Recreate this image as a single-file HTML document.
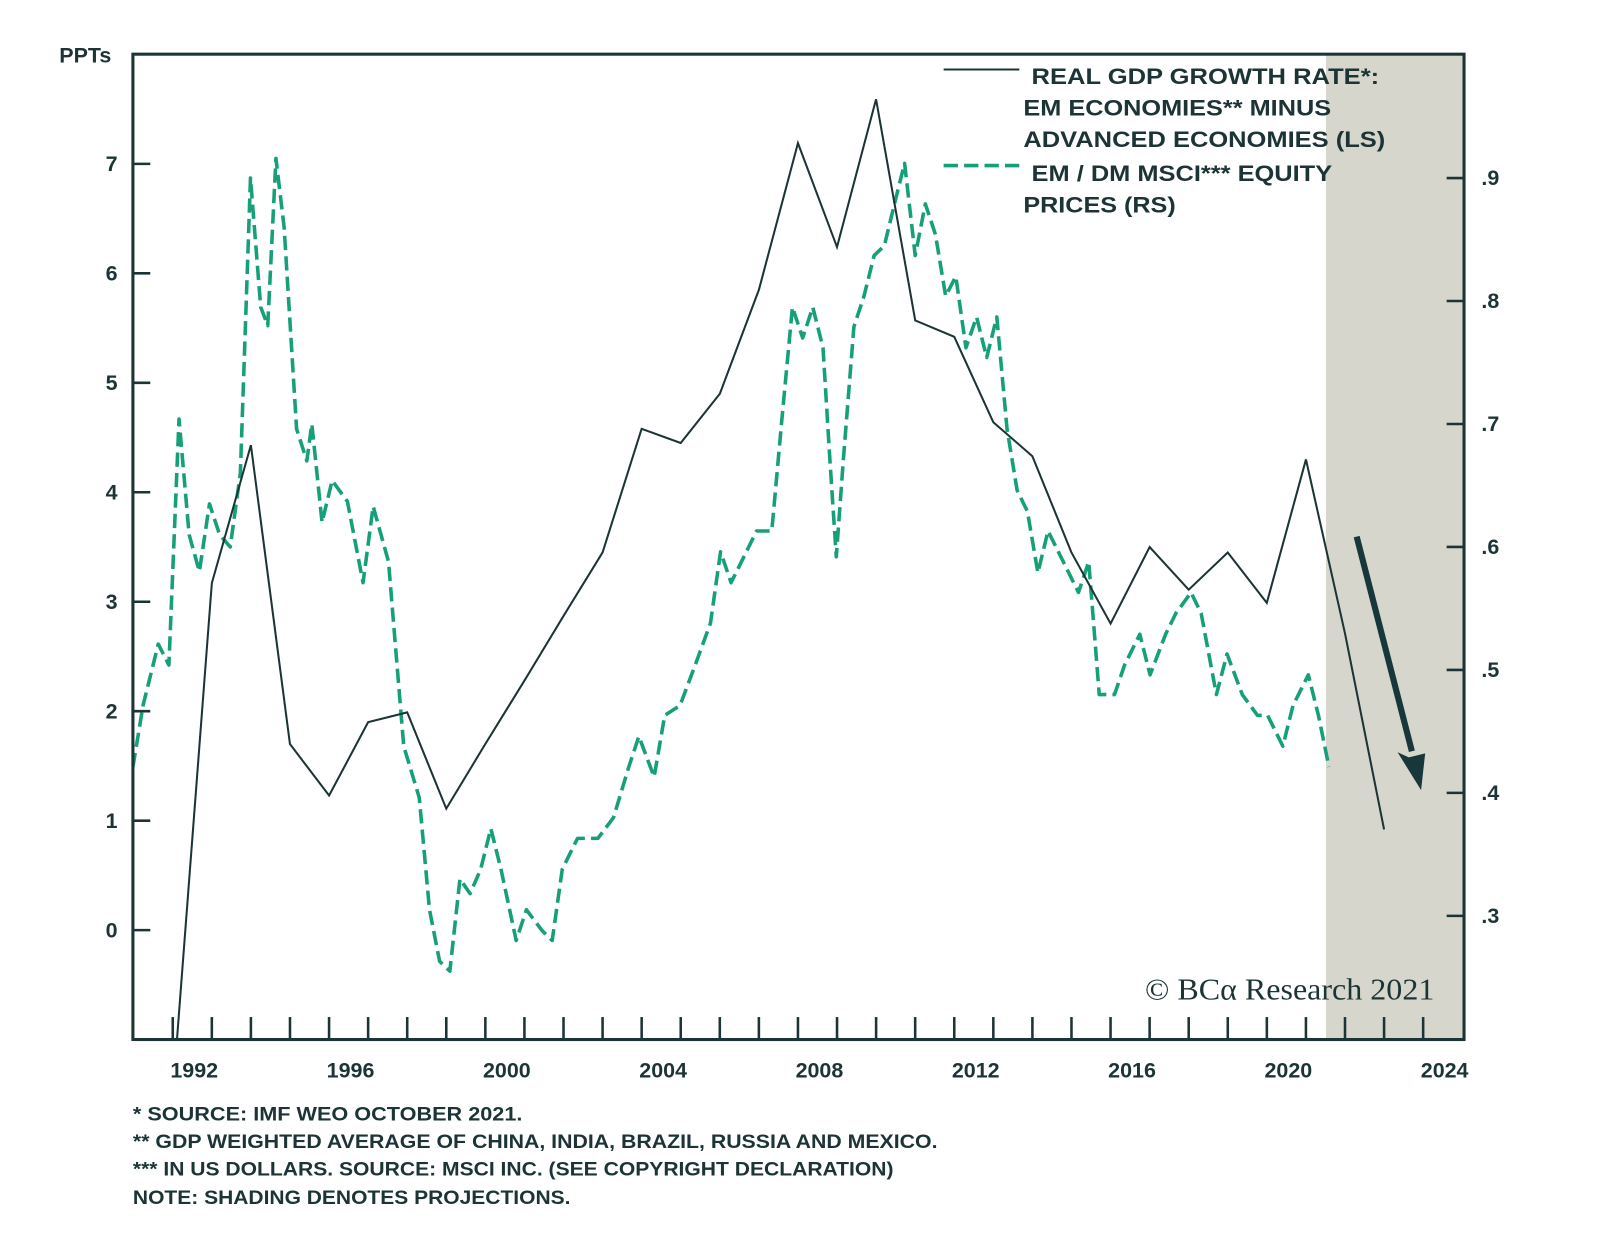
<!DOCTYPE html>
<html><head><meta charset="utf-8">
<style>
html,body{margin:0;padding:0;background:#fff;}
svg{display:block;}
text{font-family:"Liberation Sans",Arial,sans-serif;fill:#1d3436;font-weight:bold;}
</style></head>
<body>
<svg id="chart" width="1600" height="1246" viewBox="0 0 1565 1219" preserveAspectRatio="none" xmlns="http://www.w3.org/2000/svg">
<defs><clipPath id="plotclip"><rect x="130" y="53" width="1302" height="964"/></clipPath></defs>
<rect x="1297" y="53" width="135" height="964" fill="#d6d6cd"/>
<g id="axes"></g>
<g id="series" clip-path="url(#plotclip)"></g>
<rect x="130" y="53" width="1302" height="964" fill="none" stroke="#1d3436" stroke-width="3"/>
<text x="58" y="61" font-size="21">PPTs</text>
<g>
<line x1="923" y1="68" x2="997" y2="68" stroke="#1d3436" stroke-width="2"/>
<text font-size="22" x="1009" y="82" textLength="340" lengthAdjust="spacingAndGlyphs">REAL GDP GROWTH RATE*:</text>
<text font-size="22" x="1001" y="113" textLength="301" lengthAdjust="spacingAndGlyphs">EM ECONOMIES** MINUS</text>
<text font-size="22" x="1001" y="144" textLength="354" lengthAdjust="spacingAndGlyphs">ADVANCED ECONOMIES (LS)</text>
<line x1="923" y1="162" x2="997" y2="162" stroke="#16a07a" stroke-width="3.5" stroke-dasharray="14 6"/>
<text font-size="22" x="1009" y="177" textLength="294" lengthAdjust="spacingAndGlyphs">EM / DM MSCI*** EQUITY</text>
<text font-size="22" x="1001" y="208" textLength="149" lengthAdjust="spacingAndGlyphs">PRICES (RS)</text>
</g>
<text x="1120" y="978" font-size="30" textLength="283" lengthAdjust="spacingAndGlyphs" style="font-family:'Liberation Serif',serif;font-weight:normal">© BCα Research 2021</text>
<g font-size="19">
<text x="130" y="1096" textLength="381" lengthAdjust="spacingAndGlyphs">*   SOURCE: IMF WEO OCTOBER 2021.</text>
<text x="130" y="1123" textLength="787" lengthAdjust="spacingAndGlyphs">**  GDP WEIGHTED AVERAGE OF CHINA, INDIA, BRAZIL, RUSSIA AND MEXICO.</text>
<text x="130" y="1150" textLength="744" lengthAdjust="spacingAndGlyphs">*** IN US DOLLARS. SOURCE: MSCI INC. (SEE COPYRIGHT DECLARATION)</text>
<text x="130" y="1178" textLength="428" lengthAdjust="spacingAndGlyphs">NOTE: SHADING DENOTES PROJECTIONS.</text>
</g>
<line x1="1327" y1="525" x2="1381" y2="735" stroke="#17373a" stroke-width="6"/>
<polygon points="1390,773 1367,736 1378,741 1394,737" fill="#17373a"/>
</svg>
<script>
const leftTicks=[0,1,2,3,4,5,6,7];
const rightTicks=[0.3,0.4,0.5,0.6,0.7,0.8,0.9];
const rightTickLabels=[".3",".4",".5",".6",".7",".8",".9"];
const xTickLabels=[1992,1996,2000,2004,2008,2012,2016,2020,2024];
const gdpYears=[1991,1992,1993,1994,1995,1996,1997,1998,1999,2000,2001,2002,2003,2004,2005,2006,2007,2008,2009,2010,2011,2012,2013,2014,2015,2016,2017,2018,2019,2020,2021,2022];
const gdpValues=[-1.5,3.17,4.43,1.70,1.23,1.90,1.99,1.11,1.70,2.28,2.87,3.45,4.58,4.45,4.90,5.85,7.19,6.24,7.59,5.57,5.42,4.64,4.33,3.45,2.80,3.50,3.11,3.45,2.99,4.30,2.71,0.92];
const eqYears=[1990.43,1990.69,1991.08,1991.35,1991.61,1991.87,1992.13,1992.39,1992.65,1992.92,1993.18,1993.44,1993.70,1993.88,1994.09,1994.30,1994.62,1994.88,1995.01,1995.27,1995.53,1995.92,1996.32,1996.58,1996.97,1997.36,1997.76,1998.02,1998.28,1998.54,1998.80,1999.06,1999.33,1999.59,1999.85,2000.24,2000.50,2000.90,2001.16,2001.42,2001.81,2002.33,2002.73,2003.12,2003.38,2003.77,2004.04,2004.43,2004.82,2005.21,2005.47,2005.74,2006.13,2006.39,2006.78,2007.04,2007.31,2007.57,2007.83,2008.09,2008.27,2008.43,2008.61,2008.88,2009.14,2009.40,2009.66,2009.92,2010.18,2010.45,2010.71,2010.97,2011.23,2011.49,2011.75,2012.02,2012.28,2012.54,2012.80,2013.06,2013.32,2013.59,2013.85,2014.24,2014.63,2014.89,2015.16,2015.55,2015.81,2016.20,2016.46,2016.86,2017.12,2017.51,2017.77,2018.16,2018.43,2018.82,2019.21,2019.47,2019.86,2020.12,2020.51,2020.77,2021.04];
const eqValues=[0.421,0.471,0.521,0.504,0.704,0.61,0.58,0.635,0.61,0.60,0.66,0.90,0.795,0.78,0.916,0.86,0.696,0.67,0.70,0.62,0.654,0.637,0.571,0.633,0.588,0.438,0.396,0.305,0.263,0.255,0.33,0.318,0.338,0.371,0.338,0.28,0.305,0.288,0.28,0.338,0.363,0.363,0.38,0.421,0.446,0.413,0.463,0.471,0.504,0.538,0.596,0.571,0.596,0.613,0.613,0.704,0.795,0.77,0.795,0.762,0.67,0.592,0.67,0.779,0.804,0.837,0.845,0.879,0.912,0.837,0.879,0.854,0.804,0.82,0.762,0.787,0.754,0.787,0.696,0.646,0.629,0.579,0.613,0.588,0.563,0.588,0.48,0.48,0.504,0.529,0.496,0.529,0.546,0.563,0.546,0.48,0.513,0.48,0.463,0.463,0.438,0.471,0.496,0.463,0.421];

const NS="http://www.w3.org/2000/svg";
function xS(y){return 190+(y-1992)*38.22;}
function yL(v){return 910-v*107.1;}
function yR(v){return 896-(v-0.3)*1203;}
function mk(tag,attrs,parent){const e=document.createElementNS(NS,tag);for(const k in attrs)e.setAttribute(k,attrs[k]);parent.appendChild(e);return e;}
const axes=document.getElementById('axes');
const series=document.getElementById('series');
leftTicks.forEach(v=>{
  const t=mk('line',{x1:130,x2:147,y1:yL(v),y2:yL(v),stroke:'#1d3436','stroke-width':2.5},axes);
  
  
  const l=mk('text',{x:115,y:yL(v)+7,'text-anchor':'end','font-size':21},axes);
  l.textContent=v;
  
  
});
rightTicks.forEach((v,i)=>{
  const t=mk('line',{x1:1415,x2:1432,y1:yR(v),y2:yR(v),stroke:'#1d3436','stroke-width':2.5},axes);
  
  
  const l=mk('text',{x:1449,y:yR(v)+7,'font-size':21},axes);
  l.textContent=rightTickLabels[i];
  
  
});
for(let yr=1991;yr<=2023;yr++){
  const x=xS(yr+0.45);
  const t=mk('line',{x1:x,x2:x,y1:995,y2:1017,stroke:'#1d3436','stroke-width':2.5},axes);
  
  
}
xTickLabels.forEach(yr=>{
  const l=mk('text',{x:xS(yr),y:1054,'text-anchor':'middle','font-size':21},axes);
  l.textContent=yr;
  
  
});
const eqPts=eqYears.map((y,i)=>xS(y).toFixed(1)+','+yR(eqValues[i]).toFixed(1)).join(' ');
const eq=mk('polyline',{points:eqPts,fill:'none',stroke:'#16a07a','stroke-width':3.5,'stroke-dasharray':'14 6','stroke-linejoin':'round'},series);


const gdpPts=gdpYears.map((y,i)=>xS(y+0.45).toFixed(1)+','+yL(gdpValues[i]).toFixed(1)).join(' ');
const gdp=mk('polyline',{points:gdpPts,fill:'none',stroke:'#1d3436','stroke-width':2},series);


</script>
</body></html>
